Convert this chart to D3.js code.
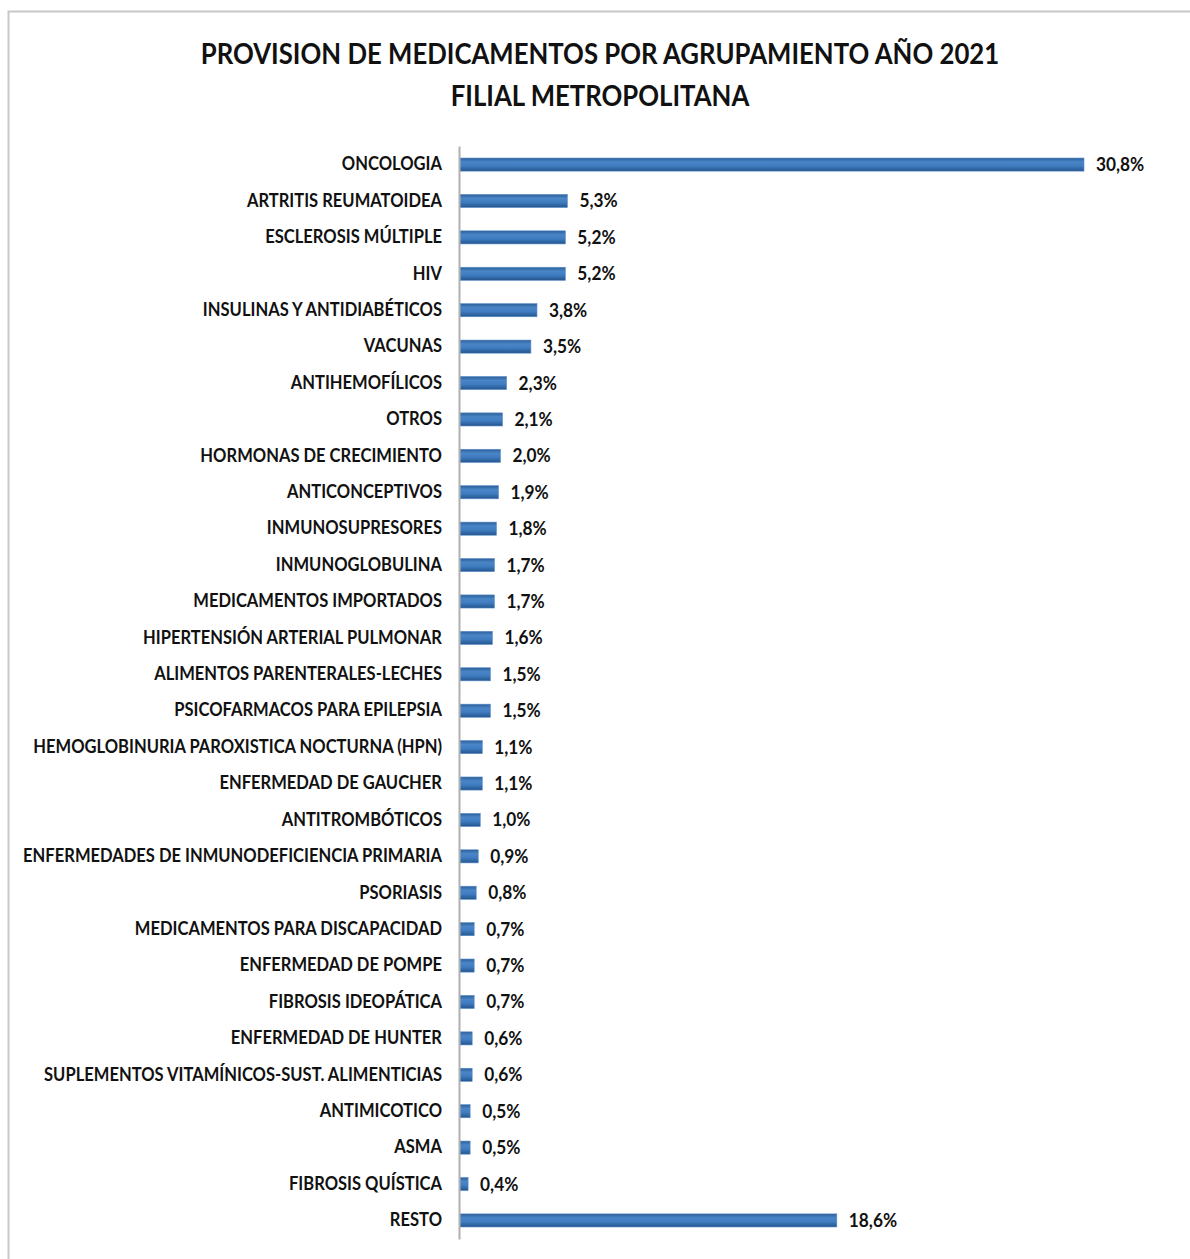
<!DOCTYPE html>
<html>
<head>
<meta charset="utf-8">
<script src="https://cdn.jsdelivr.net/npm/d3@7"></script>
<style>
  body { margin: 0; background: #fff; }
  svg { display: block; }
</style>
</head>
<body>
<svg id="chart" width="1190" height="1259"></svg>
<script>
// datos
const categorias = [
  "ONCOLOGIA", "ARTRITIS REUMATOIDEA", "ESCLEROSIS MÚLTIPLE", "HIV",
  "INSULINAS Y ANTIDIABÉTICOS", "VACUNAS", "ANTIHEMOFÍLICOS", "OTROS",
  "HORMONAS DE CRECIMIENTO", "ANTICONCEPTIVOS", "INMUNOSUPRESORES",
  "INMUNOGLOBULINA", "MEDICAMENTOS IMPORTADOS", "HIPERTENSIÓN ARTERIAL PULMONAR",
  "ALIMENTOS PARENTERALES-LECHES", "PSICOFARMACOS PARA EPILEPSIA",
  "HEMOGLOBINURIA PAROXISTICA NOCTURNA (HPN)", "ENFERMEDAD DE GAUCHER",
  "ANTITROMBÓTICOS", "ENFERMEDADES DE INMUNODEFICIENCIA PRIMARIA", "PSORIASIS",
  "MEDICAMENTOS PARA DISCAPACIDAD", "ENFERMEDAD DE POMPE", "FIBROSIS IDEOPÁTICA",
  "ENFERMEDAD DE HUNTER", "SUPLEMENTOS VITAMÍNICOS-SUST. ALIMENTICIAS",
  "ANTIMICOTICO", "ASMA", "FIBROSIS QUÍSTICA", "RESTO"
];
const valores = [
  30.8, 5.3, 5.2, 5.2, 3.8, 3.5, 2.3, 2.1, 2.0, 1.9, 1.8, 1.7, 1.7, 1.6,
  1.5, 1.5, 1.1, 1.1, 1.0, 0.9, 0.8, 0.7, 0.7, 0.7, 0.6, 0.6, 0.5, 0.5, 0.4, 18.6
];
const titulo = ["PROVISION DE MEDICAMENTOS POR AGRUPAMIENTO AÑO 2021", "FILIAL METROPOLITANA"];

const datos = categorias.map((c, i) => ({ cat: c, val: valores[i] }));

const svg = d3.select("#chart");
const fuente = "Lato, 'Open Sans', sans-serif";
const sx = 0.92; // compresion horizontal del texto (parecido a Calibri)

// marco
svg.append("rect")
  .attr("x", 8.5).attr("y", 11.5)
  .attr("width", 1200).attr("height", 1260)
  .attr("fill", "#fff")
  .attr("stroke", "#c8c8c8")
  .attr("stroke-width", 2);

// gradiente de las barras (estilo bisel)
const defs = svg.append("defs");
const grad = defs.append("linearGradient")
  .attr("id", "barGrad")
  .attr("x1", 0).attr("y1", 0).attr("x2", 0).attr("y2", 1);
grad.append("stop").attr("offset", "0%").attr("stop-color", "#2b5f99");
grad.append("stop").attr("offset", "30%").attr("stop-color", "#4a85c6");
grad.append("stop").attr("offset", "60%").attr("stop-color", "#3f7cc0");
grad.append("stop").attr("offset", "100%").attr("stop-color", "#24558d");

// titulo
svg.append("g")
  .selectAll("text")
  .data(titulo)
  .join("text")
  .attr("transform", (d, i) => `translate(600,${64 + i * 42}) scale(${sx},1)`)
  .attr("text-anchor", "middle")
  .attr("font-family", fuente)
  .attr("font-weight", "bold")
  .attr("font-size", 28)
  .attr("fill", "#111")
  .text((d) => d);

// escalas
const x0 = 460;
const x = d3.scaleLinear().domain([0, 30.8]).range([x0, 1084]);
const y = d3.scaleBand()
  .domain(categorias)
  .range([146, 1239])
  .paddingInner(0.64)
  .paddingOuter(0.33);

// barras
svg.append("g")
  .selectAll("rect")
  .data(datos)
  .join("rect")
  .attr("x", x(0))
  .attr("y", (d) => y(d.cat))
  .attr("width", (d) => x(d.val) - x(0))
  .attr("height", y.bandwidth())
  .attr("fill", "url(#barGrad)")
  .attr("stroke", "#5b8fcb")
  .attr("stroke-width", 0.6);

// eje vertical
const eje = svg.append("g")
  .attr("transform", `translate(${x0 - 1},0)`)
  .call(d3.axisLeft(y).tickSize(0).tickPadding(0));
eje.select(".domain").attr("stroke", "#b0b0b0").attr("stroke-width", 2);
eje.selectAll(".tick text")
  .attr("x", -17 / sx)
  .attr("transform", `scale(${sx},1)`)
  .attr("font-family", fuente)
  .attr("font-weight", "bold")
  .attr("font-size", 18)
  .attr("fill", "#111");

// etiquetas de valor
svg.append("g")
  .selectAll("text")
  .data(datos)
  .join("text")
  .attr("transform", (d) => `translate(${x(d.val) + 12},${y(d.cat) + y.bandwidth() / 2}) scale(0.96,1)`)
  .attr("dy", "0.36em")
  .attr("font-family", fuente)
  .attr("font-weight", "bold")
  .attr("font-size", 18)
  .attr("fill", "#111")
  .text((d) => d.val.toFixed(1).replace(".", ",") + "%");
</script>
</body>
</html>
